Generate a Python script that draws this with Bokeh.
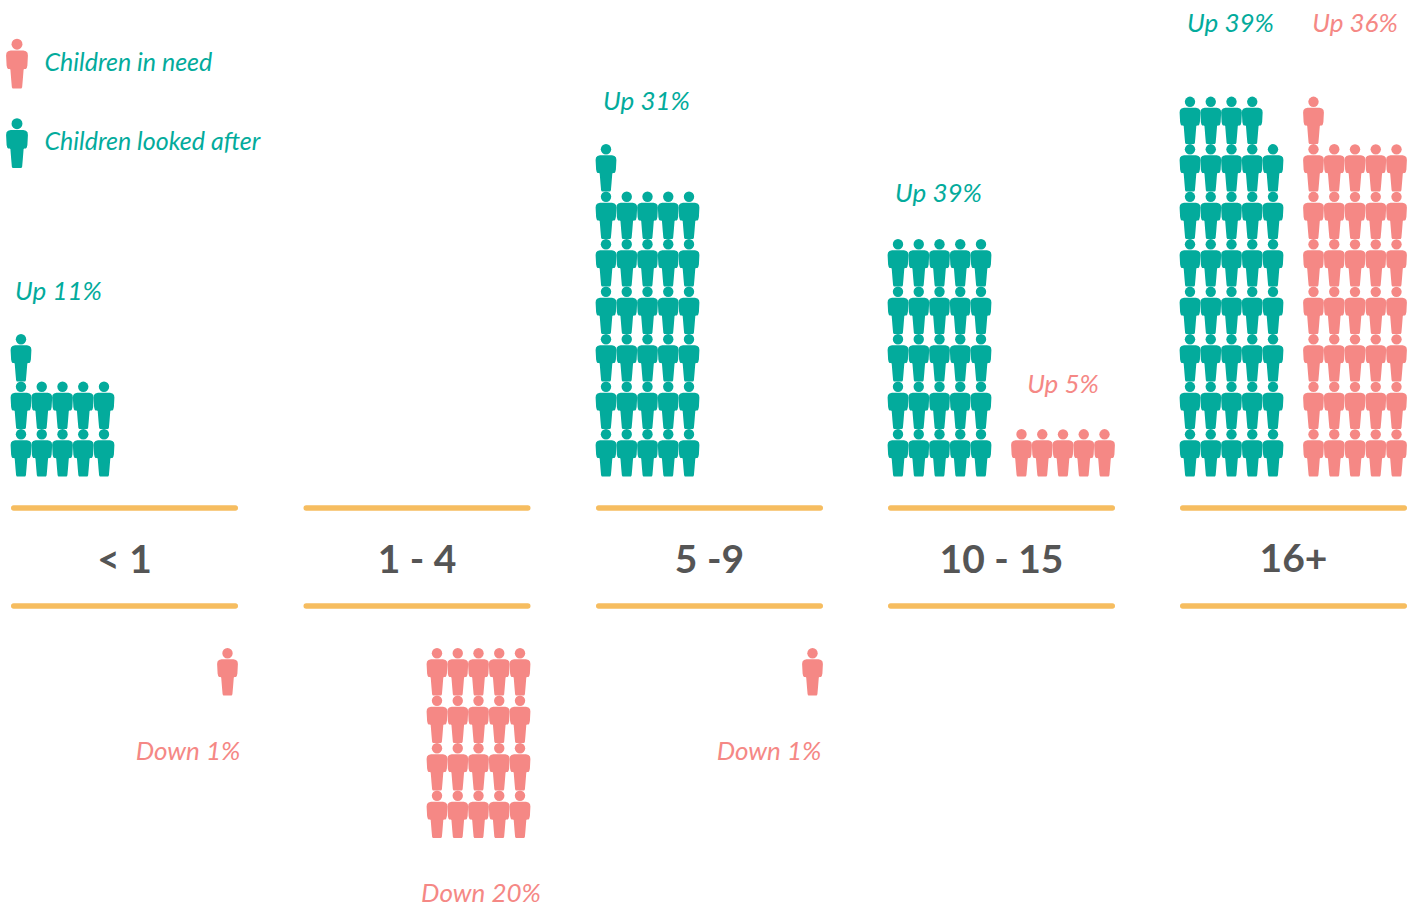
from bokeh.plotting import figure
from bokeh.models import Range1d
from bokeh.core.properties import value
from bokeh.embed import file_html
from bokeh.resources import INLINE

# ---- data: one icon per percentage point, as drawn
age_groups = ["< 1", "1 - 4", "5 -9", "10 - 15", "16+"]
looked_after_icons = [11, 0, 31, 25, 39]
in_need_up_icons = [0, 0, 0, 5, 36]
in_need_down_icons = [1, 20, 1, 0, 0]
looked_after_labels = ["Up 11%", "", "Up 31%", "Up 39%", "Up 39%"]
in_need_up_labels = ["", "", "", "Up 5%", "Up 36%"]
in_need_down_labels = ["Down 1%", "Down 20%", "Down 1%", "", ""]
legend_labels = ["Children in need", "Children looked after"]

# ---- layout and style
TEAL, SALMON, GOLD, GREY = "#03AB9C", "#F58885", "#F6BD60", "#555555"
W, H = 1419, 906
group_left = [10.5, 303, 595.5, 887.5, 1179.5]
GROUP_W = 227
COL, ROW = 20.75, 47.5
UP_FEET, DOWN_FEET = 476, 695
RULE_TOP, RULE_BOT, CAT_Y = 507.5, 605.5, 557
FONT = "Lato"
LABEL_SIZE = "26px"
LEGEND_SIZE = "25px"
LEGEND_SCALE = 1.05

la_label_pos = [(58, 289), None, (646, 99), (938, 191), (1230, 21)]
up_label_pos = [None, None, None, (1062.5, 382), (1354.5, 21)]
down_label_pos = [(187.5, 749), (480.5, 891), (768.5, 749), None, None]
legend_icon_pos = [(16.5, 88), (16.5, 167.5)]
legend_text_pos = [(44, 60), (44, 139)]

half = [(0, 36.2), (6, 36.2), (8.5, 35.5), (10, 34), (10.4, 31.5), (9.9, 22), (9.3, 19.5),
        (8.5, 18.6), (7, 18.6), (6.3, 18), (5.5, 8), (4.9, 1.2), (4.2, 0)]
body_dx = [p[0] for p in half] + [-p[0] for p in reversed(half)]
body_h = [p[1] for p in half] + [p[1] for p in reversed(half)]
HEAD_H, HEAD_R = 42.2, 5.2

p = figure(width=W, height=H, x_range=Range1d(0, W), y_range=Range1d(H, 0),
           output_backend="svg", toolbar_location=None, min_border=0,
           outline_line_color=None, background_fill_color="white", border_fill_color="white")
p.axis.visible = False
p.grid.visible = False


def draw_people(cx_list, feet_list, color, scale=1.0):
    xs = [[c + d * scale for d in body_dx] for c in cx_list]
    ys = [[f - h * scale for h in body_h] for f in feet_list]
    p.patches(xs, ys, fill_color=color, line_color=None)
    p.circle(cx_list, [f - HEAD_H * scale for f in feet_list], radius=HEAD_R * scale,
             fill_color=color, line_color=None)


def stack_up(count, first_cx):
    cx, fy = [], []
    for i in range(count):
        cx.append(first_cx + (i % 5) * COL)
        fy.append(UP_FEET - (i // 5) * ROW)
    return cx, fy


def stack_down(count, last_cx):
    cx, fy = [], []
    for i in range(count):
        cx.append(last_cx - (i % 5) * COL)
        fy.append(DOWN_FEET + (i // 5) * ROW)
    return cx, fy


def label(pos, txt, color, align="center", size=LABEL_SIZE, style="italic", font=FONT):
    p.text([pos[0]], [pos[1]], text=[txt], text_color=color, text_align=align,
           text_baseline="middle", text_font=value(font), text_font_size=size,
           text_font_style=style)


for i, name in enumerate(age_groups):
    left = group_left[i]
    right = left + GROUP_W
    p.segment([left + 2.7, left + 2.7], [RULE_TOP, RULE_BOT], [right - 2.7, right - 2.7],
              [RULE_TOP, RULE_BOT], line_color=GOLD, line_width=5.4, line_cap="round")
    label((left + GROUP_W / 2, CAT_Y), name, GREY, size="39px", style="bold", font="Lato")

    # A looked-after stack fills from the group's left
    n = looked_after_icons[i]
    if n:
        cx, fy = stack_up(n, left + 10)
        draw_people(cx, fy, TEAL)
        label(la_label_pos[i], looked_after_labels[i], TEAL)
    n = in_need_up_icons[i]
    if n:
        cx, fy = stack_up(n, right - 10.5 - 4 * COL)
        draw_people(cx, fy, SALMON)
        label(up_label_pos[i], in_need_up_labels[i], SALMON)
    n = in_need_down_icons[i]
    if n:
        cx, fy = stack_down(n, right - 10.5)
        draw_people(cx, fy, SALMON)
        label(down_label_pos[i], in_need_down_labels[i], SALMON)

for j, (txt, col) in enumerate(zip(legend_labels, [SALMON, TEAL])):
    draw_people([legend_icon_pos[j][0]], [legend_icon_pos[j][1]], col, scale=LEGEND_SCALE)
    label(legend_text_pos[j], txt, TEAL, align="left", size=LEGEND_SIZE)

open("out.html", "w").write(file_html(p, INLINE))
